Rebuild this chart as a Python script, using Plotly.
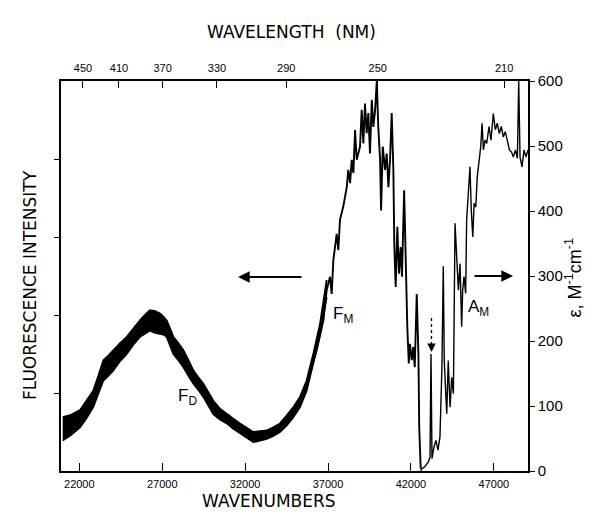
import plotly.graph_objects as go

# Dimer fluorescence band (F_D and the rise into F_M): lower / upper edge of the noisy trace
fd_wn = [21000, 21500, 22040, 22440, 22840, 23150, 23450, 23750, 24050, 24460,
         24860, 25260, 25660, 25960, 26260, 26570, 26870, 27070, 27270, 27470,
         27670, 27970, 28280, 28580, 28880, 29180, 29480, 29780, 30080, 30480,
         30890, 31290, 31690, 32090, 32490, 32900, 33300, 33700, 34100, 34500,
         34910, 35310, 35710, 36110, 36520, 36920]
fd_lo = [0.39, 0.46, 0.56, 0.68, 0.82, 0.98, 1.16, 1.22, 1.29, 1.41,
         1.50, 1.62, 1.72, 1.76, 1.80, 1.77, 1.76, 1.75, 1.72, 1.62,
         1.50, 1.42, 1.33, 1.22, 1.12, 1.04, 0.95, 0.84, 0.73, 0.66,
         0.61, 0.54, 0.48, 0.42, 0.37, 0.39, 0.41, 0.45, 0.50, 0.58,
         0.69, 0.82, 1.03, 1.38, 1.76, 2.23]
fd_hi = [0.69, 0.72, 0.78, 0.90, 1.03, 1.22, 1.42, 1.48, 1.55, 1.64,
         1.72, 1.83, 1.93, 2.00, 2.06, 2.05, 2.02, 1.98, 1.93, 1.83,
         1.72, 1.64, 1.55, 1.42, 1.29, 1.20, 1.12, 1.01, 0.90, 0.80,
         0.73, 0.67, 0.61, 0.55, 0.50, 0.51, 0.52, 0.56, 0.61, 0.71,
         0.82, 0.95, 1.16, 1.50, 1.89, 2.45]

# Monomer fluorescence F_M (left axis, arbitrary units)
fm_wn = [35310, 35910, 36320, 36720, 36920, 37120, 37220, 37320, 37520, 37620,
         37720, 37920, 38130, 38220, 38330, 38430, 38530, 38630, 38730, 38930,
         39030, 39130, 39230, 39330, 39430, 39530, 39640, 39730, 39840, 39940,
         40030, 40140, 40200, 40300, 40440, 40540, 40640, 40740, 40840, 40940,
         41000, 41080, 41180, 41280, 41380, 41460, 41590, 41700, 41780, 41870,
         41940, 42050, 42140, 42230, 42350, 42450, 42500, 42590]
fm_val = [0.86, 1.25, 1.55, 1.93, 2.32, 2.49, 2.27, 2.70, 3.04, 2.83,
          3.22, 3.39, 3.64, 3.86, 3.69, 3.99, 3.82, 4.37, 3.99, 4.16,
          4.63, 4.20, 4.71, 4.33, 4.59, 4.07, 4.76, 4.41, 4.63, 5.00,
          4.41, 3.99, 3.34, 4.16, 3.86, 4.07, 3.64, 3.99, 4.59, 3.86,
          2.87, 2.36, 3.13, 2.53, 2.87, 2.49, 3.60, 2.49, 1.85, 1.38,
          1.63, 1.42, 1.59, 1.33, 2.27, 1.50, 0.56, 0.03]

# Monomer absorption A_M (right axis, epsilon in M^-1 cm^-1)
am_wn = [42590, 42650, 42850, 43050, 43150, 43210, 43270, 43390, 43510, 43630,
         43750, 43870, 43950, 44010, 44100, 44160, 44250, 44360, 44460, 44560,
         44660, 44760, 44860, 44960, 45060, 45120, 45200, 45300, 45360, 45460,
         45560, 45640, 45730, 45810, 45910, 46000, 46130, 46210, 46290, 46370,
         46470, 46570, 46710, 46830, 46970, 47090, 47210, 47330, 47450, 47570,
         47690, 47820, 47940, 48060, 48180, 48300, 48420, 48500, 48580, 48700,
         48820, 48940, 49060]
am_eps = [0, 3, 7, 14, 21, 180, 19, 37, 47, 32,
          52, 160, 315, 170, 119, 88, 170, 98, 144, 119,
          381, 324, 278, 319, 222, 278, 299, 273, 386, 427,
          468, 401, 360, 412, 406, 453, 489, 499, 535, 494,
          509, 504, 530, 509, 550, 525, 535, 519, 530, 514,
          522, 509, 494, 491, 483, 494, 481, 600, 483, 468,
          494, 483, 494]

wn_ticks = [22000, 27000, 32000, 37000, 42000, 47000]
nm_ticks = [450, 410, 370, 330, 290, 250, 210]
eps_ticks = [0, 100, 200, 300, 400, 500, 600]
fl_ticks = [1, 2, 3, 4]

X_RANGE = [20896, 49060]
INK = "black"

fig = go.Figure()

fig.add_trace(go.Scatter(x=fd_wn, y=fd_lo, mode="lines",
                         line=dict(color=INK, width=1.8), hoverinfo="skip"))
fig.add_trace(go.Scatter(x=fd_wn, y=fd_hi, mode="lines", fill="tonexty",
                         fillcolor=INK, line=dict(color=INK, width=1.8),
                         hoverinfo="skip"))
fig.add_trace(go.Scatter(x=fm_wn, y=fm_val, mode="lines",
                         line=dict(color=INK, width=1.9), hoverinfo="skip"))
fig.add_trace(go.Scatter(x=am_wn, y=am_eps, mode="lines", yaxis="y2",
                         line=dict(color=INK, width=1.4), hoverinfo="skip"))
# carrier for the wavelength axis on top
fig.add_trace(go.Scatter(x=[X_RANGE[0]], y=[0], xaxis="x2", mode="markers",
                         marker=dict(opacity=0), hoverinfo="skip"))

tick_font = dict(family="Liberation Sans, Arial, sans-serif", size=11, color=INK)
axis_common = dict(showgrid=False, zeroline=False, showline=True,
                   linecolor=INK, linewidth=1.5, tickcolor=INK, tickwidth=1.3)

fig.update_layout(
    width=600, height=524,
    margin=dict(l=61, r=72, t=81, b=53),
    paper_bgcolor="white", plot_bgcolor="white",
    showlegend=False,
    xaxis=dict(range=X_RANGE, tickvals=wn_ticks,
               ticktext=[str(v) for v in wn_ticks],
               ticks="inside", ticklen=8,
               tickfont=tick_font, ticklabelstandoff=2, **axis_common),
    xaxis2=dict(range=X_RANGE, overlaying="x", side="top",
                tickvals=[1e7 / nm for nm in nm_ticks],
                ticktext=[str(nm) for nm in nm_ticks],
                ticks="inside", ticklen=7, tickfont=tick_font,
                ticklabelstandoff=3, **axis_common),
    yaxis=dict(range=[0, 5], tickvals=fl_ticks, showticklabels=False,
               ticks="outside", ticklen=5, **axis_common),
    yaxis2=dict(range=[0, 600], overlaying="y", side="right", tickvals=eps_ticks,
                ticks="outside", ticklen=5,
                tickfont=dict(family="Liberation Sans, Arial, sans-serif",
                              size=15, color=INK), **axis_common),
)

title_font = dict(family="DejaVu Sans, sans-serif", size=17, color=INK)
label_font = dict(family="Liberation Sans, Arial, sans-serif", size=17, color=INK)


def px_x(x):
    return (x - 61) / 467


def px_y(y):
    return (471 - y) / 390


notes = [
    dict(text="WAVELENGTH  (NM)", x=px_x(291), y=px_y(20), font=title_font),
    dict(text="WAVENUMBERS", x=px_x(269), y=px_y(513), font=title_font),
    dict(text="FLUORESCENCE INTENSITY", x=px_x(18), y=px_y(285),
         font=title_font, textangle=-90),
    dict(text="ε, M<sup>-1</sup>cm<sup>-1</sup>", x=px_x(587), y=px_y(278),
         font=dict(family="Liberation Sans, Arial, sans-serif", size=18, color=INK),
         textangle=-90),
    dict(text="F<sub>D</sub>", x=px_x(176), y=px_y(410), font=label_font),
    dict(text="F<sub>M</sub>", x=px_x(343), y=px_y(315), font=label_font),
    dict(text="A<sub>M</sub>", x=px_x(491), y=px_y(308), font=label_font),
]
for n in notes:
    fig.add_annotation(xref="paper", yref="paper", showarrow=False, **n)

# direction arrows: fluorescence -> left axis, absorption -> right axis
fig.add_annotation(xref="paper", yref="paper", x=px_x(238), y=px_y(277),
                   ax=65, ay=0, text="", showarrow=True, arrowhead=2,
                   arrowsize=1.3, arrowwidth=1.8, arrowcolor=INK)
fig.add_annotation(xref="paper", yref="paper", x=px_x(513), y=px_y(276),
                   ax=-40, ay=0, text="", showarrow=True, arrowhead=2,
                   arrowsize=1.3, arrowwidth=1.8, arrowcolor=INK)
# dashed pointer to the excitation position
fig.add_shape(type="line", xref="paper", yref="paper",
              x0=px_x(431.5), x1=px_x(431.5), y0=px_y(318), y1=px_y(345),
              line=dict(color=INK, width=1.3, dash="dot"))
fig.add_annotation(xref="paper", yref="paper", x=px_x(431.5), y=px_y(352),
                   ax=0, ay=-8, text="", showarrow=True, arrowhead=2,
                   arrowsize=1.2, arrowwidth=1.4, arrowcolor=INK)

fig.write_html("out.html")
